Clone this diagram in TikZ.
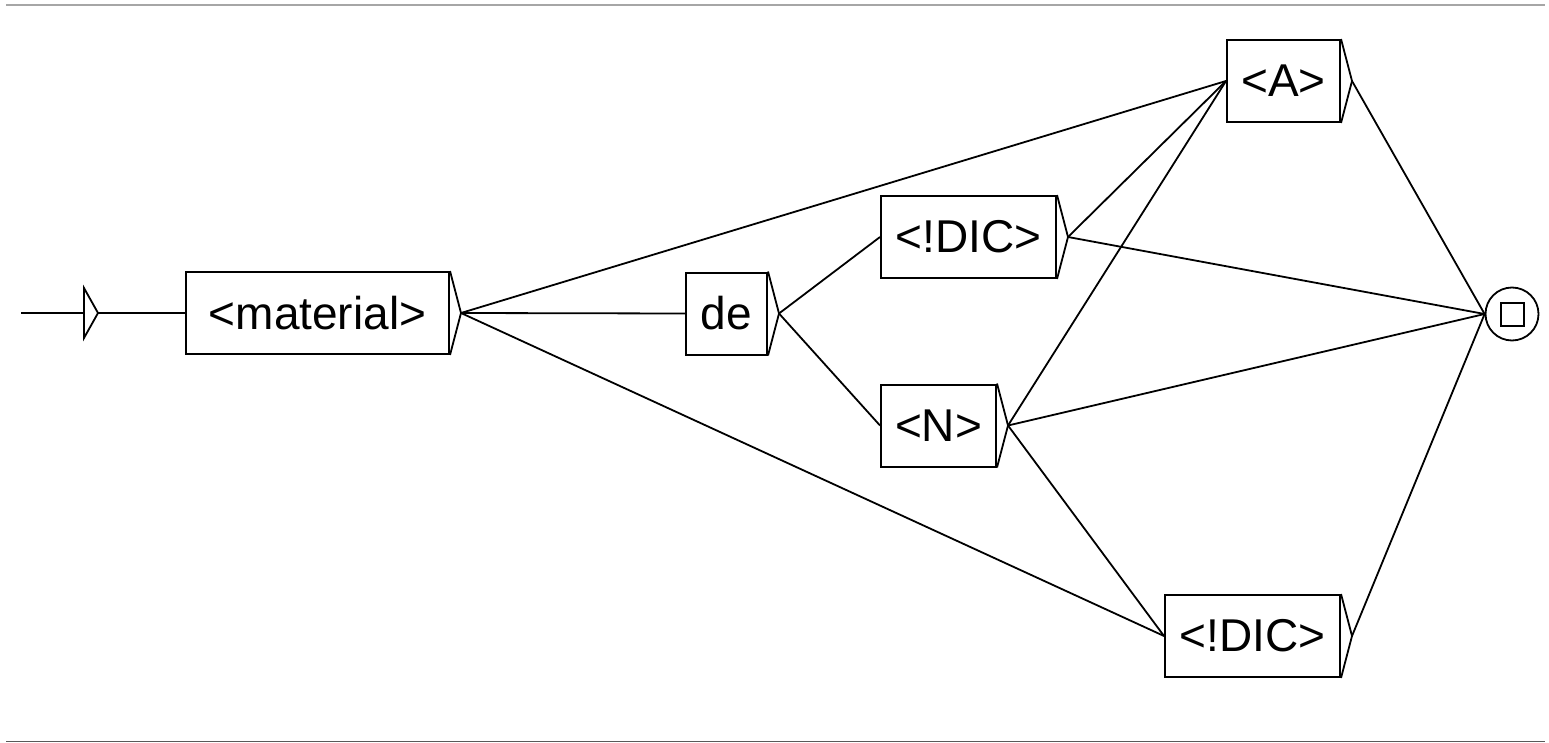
\documentclass[tikz,border=0pt]{standalone}
\usepackage{fontspec}
\setmainfont{Liberation Sans}
\usetikzlibrary{calc}
\begin{document}
\begin{tikzpicture}[x=1pt,y=-1pt,
  box/.style={draw,line width=2pt,rectangle,inner sep=0pt,minimum height=82pt,font=\fontsize{46}{50}\selectfont},
  tip/.style={line width=1.8pt,line join=miter},
  edge/.style={line width=1.8pt}]
\useasboundingbox (0,0) rectangle (1549,743);
\draw[line width=1.8pt,gray!70] (6,5) -- (1545,5);
\draw[line width=1.8pt,black!65] (6,741.5) -- (1545,741.5);
% start
\coordinate (s0) at (21,313);
\coordinate (stop) at (84,288);
\coordinate (sbot) at (84,338);
\coordinate (stip) at (98,313);
\draw[tip] (stop) -- (stip) -- (sbot) -- cycle;
\draw[edge] (s0) -- (84,313);
% boxes
\node[box,minimum width=263pt] (mat) at (317.5,313) {<material>};
\node[box,minimum width=81pt] (de) at (726.5,313.5) {de};
\node[box,minimum width=175pt] (dic1) at (968.5,237) {<!DIC>};
\node[box,minimum width=115pt] (n) at (938.5,425.5) {<N>};
\node[box,minimum width=113pt] (a) at (1283.5,81) {<A>};
\node[box,minimum width=175pt] (dic2) at (1252.5,636) {<!DIC>};
% final state
\node[draw,circle,line width=1.8pt,minimum size=53pt,inner sep=0pt] (fin) at (1512,314) {};
\node[draw,rectangle,line width=2pt,minimum size=23pt,inner sep=0pt] (finsq) at (fin.center) {};
% tips
\foreach \b in {mat,de,dic1,n,a,dic2}{
  \coordinate (\b t) at ($(\b.east)+(11,0)$);
  \draw[tip] (\b.north east) -- (\b t) -- (\b.south east);
}
% edges
\draw[edge] (stip) -- (mat.west);
\draw[edge] (matt) -- (a.west);
\draw[edge] (matt) -- (de.west);
\draw[edge] (matt) -- (dic2.west);
\draw[edge] (det) -- (dic1.west);
\draw[edge] (det) -- (n.west);
\draw[edge] (dic1t) -- (a.west);
\draw[edge] (dic1t) -- (fin.west);
\draw[edge] (nt) -- (a.west);
\draw[edge] (nt) -- (fin.west);
\draw[edge] (nt) -- (dic2.west);
\draw[edge] (at) -- (fin.west);
\draw[edge] (dic2t) -- (fin.west);
\end{tikzpicture}
\end{document}
